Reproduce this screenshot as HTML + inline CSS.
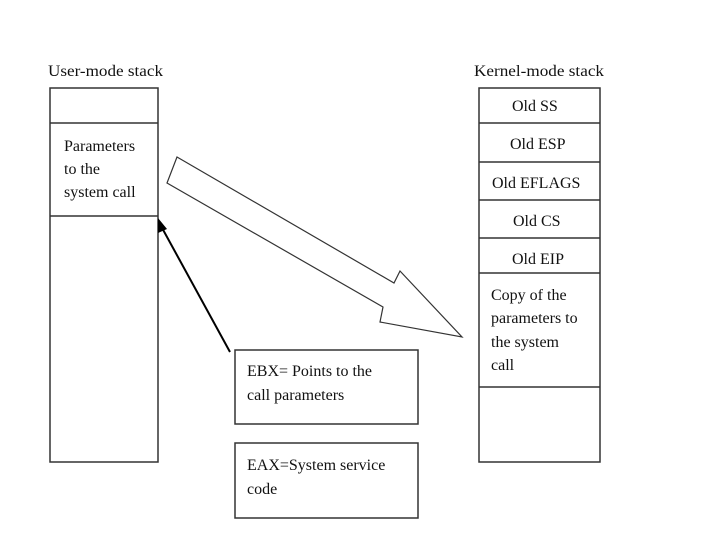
<!DOCTYPE html>
<html><head><style>
html,body{margin:0;padding:0;background:#fff;}
text{font-family:"Liberation Serif",serif;font-size:16px;fill:#111;}
</style></head><body>
<svg width="720" height="540" xmlns="http://www.w3.org/2000/svg">
<g fill="none" stroke="#333" stroke-width="1.5">
<rect x="50" y="88" width="108" height="374"/>
<line x1="50" y1="123" x2="158" y2="123"/>
<line x1="50" y1="216" x2="158" y2="216"/>
<rect x="479" y="88" width="121" height="374"/>
<line x1="479" y1="123" x2="600" y2="123"/>
<line x1="479" y1="162" x2="600" y2="162"/>
<line x1="479" y1="200" x2="600" y2="200"/>
<line x1="479" y1="238" x2="600" y2="238"/>
<line x1="479" y1="273" x2="600" y2="273"/>
<line x1="479" y1="387" x2="600" y2="387"/>
<rect x="235" y="350" width="183" height="74"/>
<rect x="235" y="443" width="183" height="75"/>
<polygon stroke-width="1.2" points="177,157 394,283 400,271 462,337 380,322 383,307 167,183"/>
</g>
<line x1="230" y1="352" x2="161" y2="226" stroke="#000" stroke-width="2"/>
<polygon points="158,218 167,229 158,233" fill="#000"/>
<text x="48" y="76" textLength="115" lengthAdjust="spacingAndGlyphs">User-mode stack</text>
<text x="474" y="76" textLength="130" lengthAdjust="spacingAndGlyphs">Kernel-mode stack</text>
<text x="64" y="151">Parameters</text>
<text x="64" y="174">to the</text>
<text x="64" y="197">system call</text>
<text x="512" y="111">Old SS</text>
<text x="510" y="149">Old ESP</text>
<text x="492" y="188">Old EFLAGS</text>
<text x="513" y="226">Old CS</text>
<text x="512" y="264">Old EIP</text>
<text x="491" y="300">Copy of the</text>
<text x="491" y="323">parameters to</text>
<text x="491" y="347">the system</text>
<text x="491" y="370">call</text>
<text x="247" y="376">EBX= Points to the</text>
<text x="247" y="400">call parameters</text>
<text x="247" y="470">EAX=System service</text>
<text x="247" y="494">code</text>
</svg>
</body></html>
